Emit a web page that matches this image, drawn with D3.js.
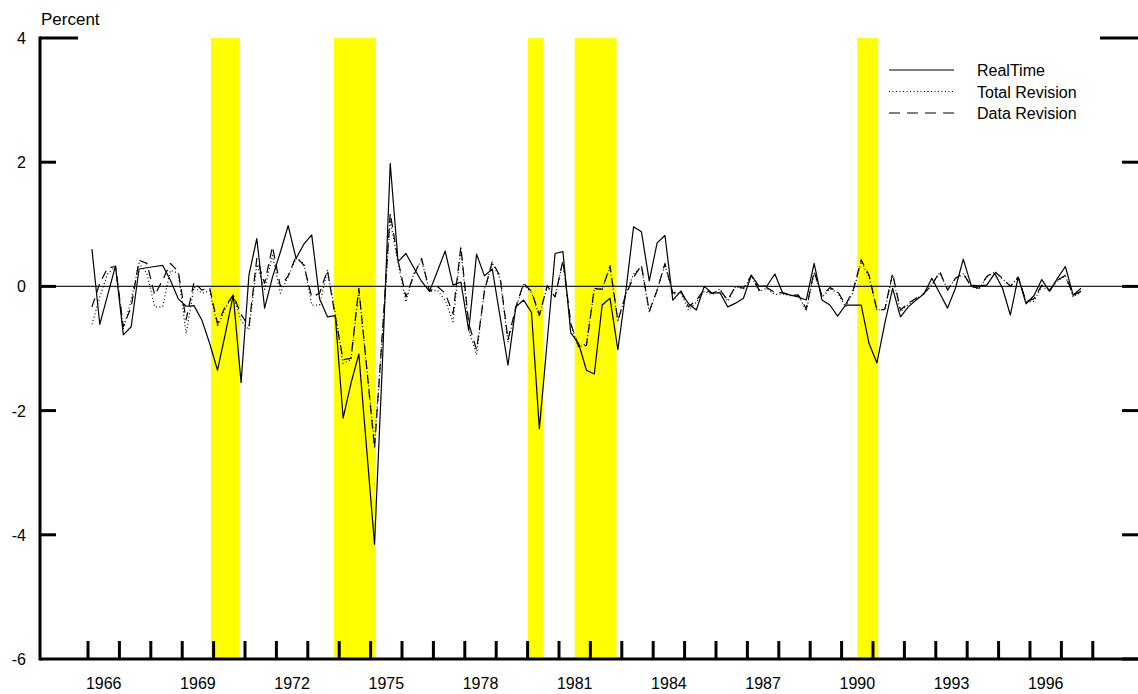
<!DOCTYPE html>
<html lang="en">
<head>
  <meta charset="UTF-8">
  <title>RealTime vs Revisions</title>
  <script src="https://d3js.org/d3.v7.min.js"></script>
  <style>
    body { margin: 0; background: #fff; }
    svg text { font-family: "Liberation Sans", Arial, sans-serif; font-size: 16px; fill: #000; }
    .series { fill: none; stroke: #000; stroke-width: 1.2; stroke-linejoin: round; }
  </style>
</head>
<body>
  <svg id="chart" width="1138" height="694"></svg>

  <script>
    /***********************
     * data (quarterly, 1966Q1 - 1997Q3)
     ***********************/
    const firstYear = 1966;

    const realTime = [
      0.60, -0.61, -0.14, 0.33, -0.78, -0.65, 0.28, 0.30, 0.32, 0.34,
      0.10, -0.20, -0.32, -0.31, -0.54, -0.92, -1.35, -0.76, -0.14, -1.55,
      0.18, 0.77, -0.35, 0.15, 0.55, 0.98, 0.45, 0.68, 0.83, -0.20,
      -0.49, -0.47, -2.12, -1.56, -1.09, -2.62, -4.15, -1.25, 1.98, 0.40,
      0.53, 0.30, 0.08, -0.08, 0.24, 0.57, 0.02, 0.07, -0.71, 0.52,
      0.17, 0.28, -0.49, -1.27, -0.33, -0.22, -0.42, -2.29, -0.88, 0.53,
      0.56, -0.75, -0.92, -1.35, -1.41, -0.30, -0.19, -1.02, -0.09, 0.96,
      0.88, 0.09, 0.70, 0.82, -0.22, -0.08, -0.28, -0.38, 0.00, -0.11,
      -0.10, -0.33, -0.27, -0.19, 0.18, 0.00, 0.01, 0.20, -0.11, -0.14,
      -0.17, -0.22, 0.37, -0.22, -0.30, -0.48, -0.30, -0.30, -0.30, -0.92,
      -1.23, -0.60, -0.03, -0.49, -0.33, -0.22, -0.12, 0.13, -0.11, -0.35,
      -0.03, 0.44, 0.02, 0.01, 0.02, 0.21, -0.03, -0.46, 0.15, -0.28,
      -0.15, 0.11, -0.08, 0.13, 0.32, -0.14, -0.03
    ];

    const totalRevision = [
      -0.61, -0.17, 0.20, 0.32, -0.68, -0.22, 0.37, 0.21, -0.33, -0.33,
      0.26, 0.21, -0.76, -0.01, -0.11, -0.07, -0.65, -0.35, -0.14, -0.55,
      -0.70, 0.35, -0.05, 0.50, -0.11, 0.16, 0.45, 0.37, -0.30, -0.30,
      0.26, -0.43, -1.24, -1.18, -0.06, -1.30, -2.53, -0.80, 1.07, 0.37,
      -0.25, 0.21, 0.42, -0.08, -0.06, -0.22, -0.57, 0.61, -0.70, -1.10,
      -0.05, 0.38, 0.12, -0.90, -0.35, 0.03, -0.10, -0.48, 0.00, -0.17,
      0.40, -0.62, -0.98, -0.92, -0.05, -0.03, 0.30, -0.57, -0.13, 0.20,
      0.32, -0.42, -0.06, 0.35, -0.13, -0.10, -0.38, -0.25, -0.08, -0.13,
      -0.04, -0.24, 0.00, -0.05, 0.17, -0.08, -0.03, -0.13, -0.12, -0.15,
      -0.13, -0.40, 0.22, -0.18, -0.04, -0.10, -0.33, -0.08, 0.40, 0.15,
      -0.38, -0.38, 0.18, -0.41, -0.29, -0.20, -0.12, 0.03, 0.22, -0.05,
      0.12, 0.20, -0.01, -0.04, 0.15, 0.23, 0.12, 0.01, 0.14, -0.25,
      -0.24, 0.00, -0.07, 0.09, 0.17, -0.17, -0.10
    ];

    const dataRevision = [
      -0.33, 0.05, 0.30, 0.32, -0.65, -0.33, 0.42, 0.37, -0.14, 0.10,
      0.37, 0.24, -0.54, 0.07, -0.06, -0.02, -0.60, -0.32, -0.14, -0.45,
      -0.65, 0.45, 0.05, 0.64, 0.00, 0.17, 0.48, 0.34, -0.17, -0.11,
      0.26, -0.49, -1.18, -1.16, -0.03, -1.30, -2.61, -0.75, 1.18, 0.42,
      -0.17, 0.18, 0.45, -0.08, 0.00, -0.11, -0.44, 0.64, -0.60, -1.02,
      -0.08, 0.40, 0.16, -0.86, -0.33, 0.05, -0.08, -0.46, 0.01, -0.17,
      0.42, -0.60, -0.97, -0.95, -0.03, -0.05, 0.33, -0.55, -0.14, 0.15,
      0.34, -0.40, -0.06, 0.37, -0.11, -0.06, -0.33, -0.22, -0.05, -0.11,
      -0.06, -0.22, 0.01, -0.03, 0.18, -0.06, -0.02, -0.10, -0.10, -0.14,
      -0.14, -0.36, 0.24, -0.15, -0.02, -0.08, -0.30, -0.05, 0.43, 0.18,
      -0.38, -0.37, 0.21, -0.38, -0.27, -0.19, -0.11, 0.02, 0.24, -0.06,
      0.13, 0.21, 0.00, -0.03, 0.16, 0.24, 0.13, 0.00, 0.15, -0.24,
      -0.20, 0.02, -0.06, 0.10, 0.18, -0.14, -0.08
    ];

    // NBER recessions, peak month to trough month
    const recessionStart = ["1969-12", "1973-11", "1980-01", "1981-07", "1990-07"];
    const recessionEnd   = ["1970-11", "1975-03", "1980-07", "1982-11", "1991-03"];

    const yTicks = [4, 2, 0, -2, -4, -6];
    const xLabelYears = [1966, 1969, 1972, 1975, 1978, 1981, 1984, 1987, 1990, 1993, 1996];
    const legendNames = ["RealTime", "Total Revision", "Data Revision"];

    /***********************
     * scales
     ***********************/
    const W = 1138, H = 694;
    const svg = d3.select("#chart");

    const x = d3.scaleLinear().domain([1964.471, 1999.44]).range([40, 1138]);
    const y = d3.scaleLinear().domain([-6, 4]).range([659, 38]);

    const monthToYear = s => { const [yy, mm] = s.split("-").map(Number); return yy + (mm - 1) / 12; };
    // a quarter sits in the middle of its quarter on the year axis
    const quarterTime = i => firstYear + i / 4 + 0.125;

    /***********************
     * recession shading
     ***********************/
    svg.append("g").selectAll("rect")
      .data(recessionStart.map((s, i) => [monthToYear(s), monthToYear(recessionEnd[i])]))
      .enter().append("rect")
      .attr("x", d => x(d[0]))
      .attr("width", d => x(d[1]) - x(d[0]))
      .attr("y", y(4))
      .attr("height", y(-6) - y(4))
      .attr("fill", "#ffff00");

    // zero line
    svg.append("line")
      .attr("x1", 40).attr("x2", W)
      .attr("y1", y(0)).attr("y2", y(0))
      .attr("stroke", "#222").attr("stroke-width", 1.2);

    /***********************
     * series
     ***********************/
    const line = d3.line()
      .x((d, i) => x(quarterTime(i)))
      .y(d => y(d));

    const seriesList = [
      { name: legendNames[0], values: realTime, dash: null, legendDash: null },
      { name: legendNames[1], values: totalRevision, dash: "1,2.5", legendDash: "1,2.5" },
      { name: legendNames[2], values: dataRevision, dash: "9,6", legendDash: "11,7" }
    ];

    seriesList.slice().reverse().forEach(s => {
      svg.append("path")
        .attr("class", "series")
        .attr("d", line(s.values))
        .attr("stroke-dasharray", s.dash);
    });

    /***********************
     * axes (drawn by hand, RATS style)
     ***********************/
    const axisG = svg.append("g").attr("stroke", "#000").attr("stroke-width", 3);

    // left spine and bottom axis
    axisG.append("line").attr("x1", 40).attr("x2", 40).attr("y1", y(4) - 1.5).attr("y2", y(-6) + 1.5);
    axisG.append("line").attr("x1", 40).attr("x2", W).attr("y1", y(-6)).attr("y2", y(-6));

    // y ticks on both sides
    yTicks.forEach(v => {
      const len = (v === 4) ? 38 : 16;
      if (v !== -6) {
        axisG.append("line").attr("x1", 40).attr("x2", 40 + len).attr("y1", y(v)).attr("y2", y(v));
      }
      axisG.append("line").attr("x1", W - len).attr("x2", W).attr("y1", y(v)).attr("y2", y(v));
    });

    // yearly x ticks
    d3.range(1966, 1999).forEach(yr => {
      axisG.append("line")
        .attr("x1", x(yr)).attr("x2", x(yr))
        .attr("y1", y(-6) - 18).attr("y2", y(-6));
    });

    // tick labels
    svg.append("g").selectAll("text")
      .data(yTicks)
      .enter().append("text")
      .attr("x", 26)
      .attr("y", d => y(d) + 6)
      .attr("text-anchor", "end")
      .text(d => d);

    svg.append("g").selectAll("text")
      .data(xLabelYears)
      .enter().append("text")
      .attr("x", d => x(d + 0.5))
      .attr("y", 689)
      .attr("text-anchor", "middle")
      .text(d => d);

    svg.append("text").attr("x", 41).attr("y", 25).style("font-size", "17px").text("Percent");

    /***********************
     * legend
     ***********************/
    const legend = svg.append("g");
    seriesList.forEach((s, i) => {
      const ly = 70 + i * 21.5;
      legend.append("line")
        .attr("x1", 889).attr("x2", 954)
        .attr("y1", ly).attr("y2", ly)
        .attr("stroke", "#000").attr("stroke-width", 1.2)
        .attr("stroke-dasharray", s.legendDash);
      legend.append("text")
        .attr("x", 977).attr("y", ly + 6)
        .text(s.name);
    });
  </script>
</body>
</html>
